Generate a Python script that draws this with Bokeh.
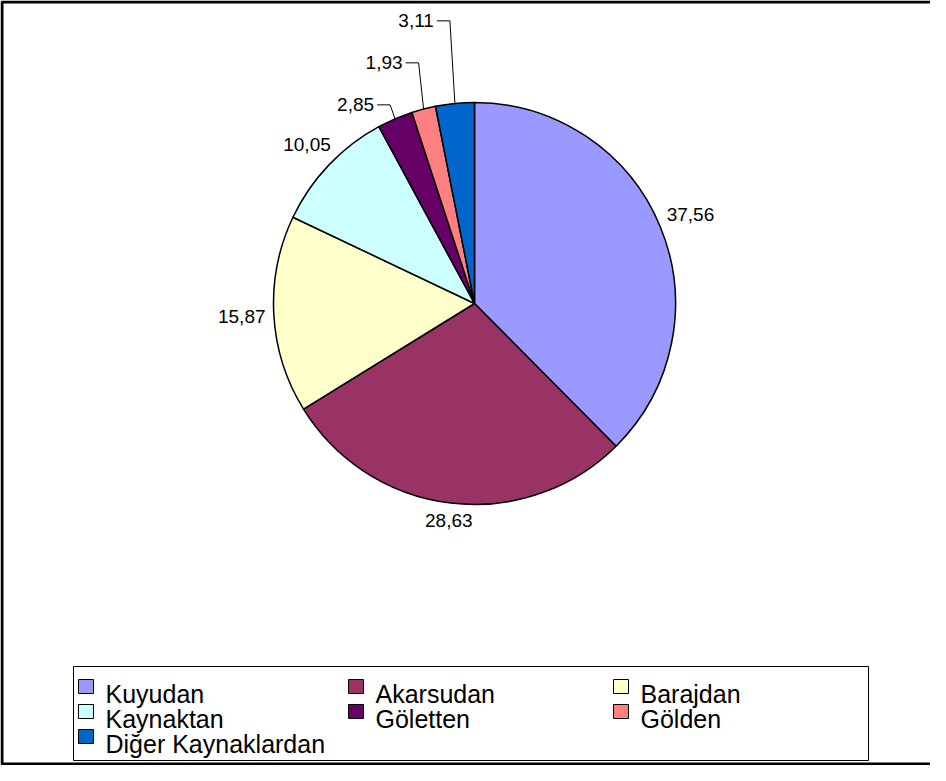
import numpy as np
from bokeh.plotting import figure
from bokeh.models import Range1d
from bokeh.embed import file_html
from bokeh.resources import INLINE
from bokeh.core.properties import value

# ---- data ----
categories = ["Kuyudan", "Akarsudan", "Barajdan", "Kaynaktan", "Göletten", "Gölden", "Diğer Kaynaklardan"]
values = [37.56, 28.63, 15.87, 10.05, 2.85, 1.93, 3.11]
labels = ["37,56", "28,63", "15,87", "10,05", "2,85", "1,93", "3,11"]
colors = ["#9999FF", "#993366", "#FFFFCC", "#CCFFFF", "#660066", "#FF8080", "#0066CC"]

FONT = "Liberation Sans"
LABEL_FS = 19
W, H = 930, 765

p = figure(width=W, height=H, x_range=Range1d(0, W), y_range=Range1d(0, H),
           output_backend="svg", toolbar_location=None, min_border=0)
p.axis.visible = False
p.grid.visible = False
p.outline_line_color = None
p.background_fill_color = "white"
p.border_fill_color = "white"


def X(px):
    return px - 8


def Y(py):
    return H + 8 - py


# chart border (left, top, bottom) with faint shadow
p.line(x=[W + 5, 1.5, 1.5, W + 5], y=[H - 1.5, H - 1.5, 1.5, 1.5], line_color="black", line_width=3)

# ---- pie ----
cx, cy, R = X(482), Y(311), 201
vals = np.array(values, dtype=float)
frac = vals / vals.sum()
cum = np.concatenate([[0.0], np.cumsum(frac)])
start = np.pi / 2 - 2 * np.pi * cum[:-1]
end = np.pi / 2 - 2 * np.pi * cum[1:]
mid = (start + end) / 2

p.wedge(x=cx, y=cy, radius=R, start_angle=list(start), end_angle=list(end), direction="clock",
        fill_color=colors, line_color="black", line_width=1.5)

# ---- data labels ----
gap = 8
bx, by, bt = [], [], []
for i, f in enumerate(frac):
    if f < 0.05:
        continue
    ux, uy = np.cos(mid[i]), np.sin(mid[i])
    w = 0.5 * LABEL_FS * len(labels[i])
    h = 0.72 * LABEL_FS
    e = abs(ux) * w / 2 + abs(uy) * h / 2
    d = R + gap + e
    bx.append(cx + d * ux)
    by.append(cy + d * uy)
    bt.append(labels[i])
p.text(x=bx, y=by, text=bt, text_align="center", text_baseline="middle",
       text_font=value(FONT), text_font_size=f"{LABEL_FS}px", text_color="black")

small_idx = [i for i, f in enumerate(frac) if f < 0.05]
ax0 = cy + R * np.sin(mid[small_idx[0]])
base = ax0 + 14
sx, sy, st, lxs, lys = [], [], [], [], []
for k, i in enumerate(small_idx):
    ax = cx + R * np.cos(mid[i])
    ay = cy + R * np.sin(mid[i])
    ly = base + 42 * k
    elbow = ax - 5
    lxs.append([elbow - 13, elbow, ax])
    lys.append([ly, ly, ay])
    sx.append(elbow - 16)
    sy.append(ly)
    st.append(labels[i])
p.multi_line(xs=lxs, ys=lys, line_color="black", line_width=1)
p.text(x=sx, y=sy, text=st, text_align="right", text_baseline="middle",
       text_font=value(FONT), text_font_size=f"{LABEL_FS}px", text_color="black")

# ---- legend ----
p.quad(left=X(81), right=X(876), top=Y(674), bottom=Y(768),
       fill_color="white", line_color="black", line_width=1)
col_x = [X(86), X(356), X(621)]
row_base = [Y(701), Y(726), Y(751)]
qx_l, qx_r, qy_t, qy_b, tx, ty = [], [], [], [], [], []
for i, c in enumerate(categories):
    r, cidx = divmod(i, 3)
    x0 = col_x[cidx]
    yb = row_base[r]
    qx_l.append(x0)
    qx_r.append(x0 + 15)
    qy_b.append(yb)
    qy_t.append(yb + 14)
    tx.append(x0 + 27)
    ty.append(yb)
p.quad(left=qx_l, right=qx_r, top=qy_t, bottom=qy_b, fill_color=colors, line_color="black", line_width=1)
p.text(x=tx, y=ty, text=categories, text_align="left", text_baseline="alphabetic",
       text_font=value(FONT), text_font_size="25px", text_color="black")

open("out.html", "w").write(file_html(p, INLINE))
